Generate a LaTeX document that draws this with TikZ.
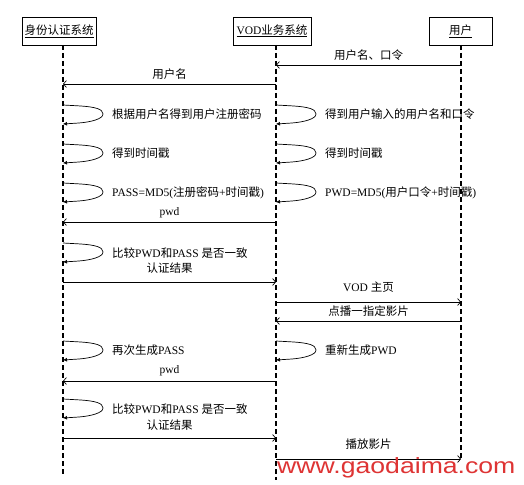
\documentclass[tikz,border=0pt]{standalone}
\usepackage{fontspec}
\setmainfont{Liberation Serif}
\newfontfamily\cjk{Noto Sans CJK SC}
\newfontfamily\wmfont{Liberation Sans}
\usetikzlibrary{arrows.meta}
\definecolor{wmred}{RGB}{222,52,52}

\begin{document}
\begin{tikzpicture}[x=1pt,y=-1pt,
    font=\fontsize{11.5}{13}\selectfont,
    head/.style={draw,line width=0.8pt,minimum height=28pt,inner sep=0pt},
    life/.style={line width=1.4pt,dash pattern=on 5pt off 3pt},
    msg/.style={line width=0.7pt,-{Straight Barb[length=3pt,width=7pt]}},
    loopmsg/.style={line width=0.7pt,-{Latex[length=4pt,width=4pt]},
        to path={-- ++(18,1) .. controls +(14,1) and +(0,-5) .. ++(22,8)
                 .. controls +(0,5) and +(12,-1) .. ++(-24,9) -- (\tikztotarget)}},
    note/.style={anchor=west,inner sep=0pt}]
    \useasboundingbox (0,0) rectangle (524,484);

    % heads and lifelines
    \node[head,minimum width=74pt] (auth) at (59,31) {\underline{\cjk 身份认证系统}};
    \node[head,minimum width=78pt] (vod) at (272,31) {\underline{VOD{\cjk 业务系统}}};
    \node[head,minimum width=63pt] (user) at (460.5,31) {\underline{\cjk 用户}};
    \coordinate (authtop) at (63,45);
    \coordinate (authend) at (63,474);
    \coordinate (vodtop) at (276,45);
    \coordinate (vodend) at (276,480);
    \coordinate (usertop) at (461,45);
    \coordinate (userend) at (461,460);
    \draw[life] (authtop) -- (authend);
    \draw[life] (vodtop) -- (vodend);
    \draw[life] (usertop) -- (userend);

    % rows
    \coordinate (r1) at (0,65);
    \coordinate (r2) at (0,84);
    \coordinate (s1) at (0,105);
    \coordinate (s2) at (0,144);
    \coordinate (s3) at (0,183);
    \coordinate (r3) at (0,222);
    \coordinate (s4) at (0,243);
    \coordinate (r4) at (0,282);
    \coordinate (r5) at (0,302);
    \coordinate (r6) at (0,321);
    \coordinate (s5) at (0,341);
    \coordinate (r7) at (0,381);
    \coordinate (s6) at (0,399);
    \coordinate (r8) at (0,438);
    \coordinate (r9) at (0,459);

    % messages
    \node (m1) at (368.5,55) {\cjk 用户名、口令};
    \node (m2) at (169.5,74) {\cjk 用户名};
    \node (m3) at (169.5,213) {pwd};
    \node (m4) at (169.5,268) {\cjk 认证结果};
    \node (m5) at (368.5,287) {VOD {\cjk 主页}};
    \node (m6) at (368.5,311) {\cjk 点播一指定影片};
    \node (m7) at (169.5,371) {pwd};
    \node (m8) at (169.5,425) {\cjk 认证结果};
    \node (m9) at (368.5,444) {\cjk 播放影片};

    \draw[msg] (usertop |- r1) -- (vodtop |- r1);
    \draw[msg] (vodtop |- r2) -- (authtop |- r2);
    \draw[msg] (vodtop |- r3) -- (authtop |- r3);
    \draw[msg] (authtop |- r4) -- (vodtop |- r4);
    \draw[msg] (vodtop |- r5) -- (usertop |- r5);
    \draw[msg] (usertop |- r6) -- (vodtop |- r6);
    \draw[msg] (vodtop |- r7) -- (authtop |- r7);
    \draw[msg] (authtop |- r8) -- (vodtop |- r8);
    \draw[msg] (vodtop |- r9) -- (usertop |- r9);

    % self messages
    \draw[loopmsg] (authtop |- s1) to ++(0,19);
    \draw[loopmsg] (vodtop |- s1) to ++(0,19);
    \draw[loopmsg] (authtop |- s2) to ++(0,19);
    \draw[loopmsg] (vodtop |- s2) to ++(0,19);
    \draw[loopmsg] (authtop |- s3) to ++(0,19);
    \draw[loopmsg] (vodtop |- s3) to ++(0,19);
    \draw[loopmsg] (authtop |- s4) to ++(0,19);
    \draw[loopmsg] (authtop |- s5) to ++(0,19);
    \draw[loopmsg] (vodtop |- s5) to ++(0,19);
    \draw[loopmsg] (authtop |- s6) to ++(0,19);

    \node[note] (a1) at (112,114) {\cjk 根据用户名得到用户注册密码};
    \node[note] (v1) at (325,114) {\cjk 得到用户输入的用户名和口令};
    \node[note] (a2) at (112,153) {\cjk 得到时间戳};
    \node[note] (v2) at (325,153) {\cjk 得到时间戳};
    \node[note] (a3) at (112,193) {PASS=MD5({\cjk 注册密码}+{\cjk 时间戳})};
    \node[note] (v3) at (325,193) {PWD=MD5({\cjk 用户口令}+{\cjk 时间戳})};
    \node[note] (a4) at (112,253) {{\cjk 比较}PWD{\cjk 和}PASS {\cjk 是否一致}};
    \node[note] (a5) at (112,350) {{\cjk 再次生成}PASS};
    \node[note] (v5) at (325,350) {{\cjk 重新生成}PWD};
    \node[note] (a6) at (112,409) {{\cjk 比较}PWD{\cjk 和}PASS {\cjk 是否一致}};

    % watermark
    \node[font=\wmfont\fontsize{22}{22}\selectfont,text=wmred,xscale=1.21,
          anchor=base west,inner sep=0pt] (wm) at (277,473) {www.gaodaima.com};
\end{tikzpicture}
\end{document}
